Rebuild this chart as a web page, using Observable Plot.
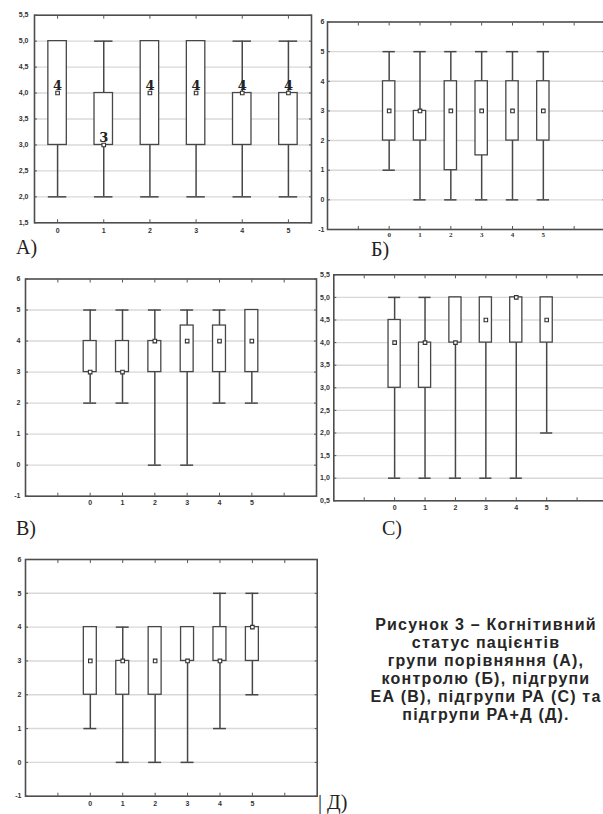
<!DOCTYPE html>
<html><head><meta charset="utf-8">
<script src="https://cdn.jsdelivr.net/npm/d3@7"></script>
<script src="https://cdn.jsdelivr.net/npm/@observablehq/plot@0.6"></script>
<style>
html,body{margin:0;padding:0;width:603px;height:814px;overflow:hidden;background:#fff;position:relative;}
.panel{position:absolute;}
.lab{position:absolute;font-family:"Liberation Serif","Times New Roman",serif;font-size:20px;color:#222;line-height:20px;white-space:nowrap;}
#caption{position:absolute;left:346px;width:280px;top:616px;text-align:center;font-family:"Liberation Sans",Arial,sans-serif;font-weight:700;font-size:16px;letter-spacing:1.2px;line-height:18px;color:#262626;white-space:nowrap;}
</style></head><body>
<div id="pA" class="panel" style="left:0;top:0"></div>
<div id="pB" class="panel" style="left:300px;top:0"></div>
<div id="pV" class="panel" style="left:0;top:260px"></div>
<div id="pS" class="panel" style="left:300px;top:255px"></div>
<div id="pD" class="panel" style="left:0;top:540px"></div>
<div class="lab" style="left:16px;top:237px">A)</div>
<div class="lab" style="left:371px;top:239px">Б)</div>
<div class="lab" style="left:16px;top:518px">В)</div>
<div class="lab" style="left:382px;top:518px">С)</div>
<div class="lab" style="left:318px;top:792px">| Д)</div>
<div id="caption">Рисунок 3 – Когнітивний<br>статус пацієнтів<br>групи порівняння (А),<br>контролю (Б), підгрупи<br>ЕА (В), підгрупи РА (С) та<br>підгрупи РА+Д (Д).</div>
<script>
const categories = [0, 1, 2, 3, 4, 5];

// Panel A
const aMin = [2, 2, 2, 2, 2, 2];
const aQ1  = [3, 3, 3, 3, 3, 3];
const aMed = [4, 3, 4, 4, 4, 4];
const aQ3  = [5, 4, 5, 5, 4, 4];
const aMax = [5, 5, 5, 5, 5, 5];
const aLabels = ["4", "3", "4", "4", "4", "4"];
const aYTicks = [1.5, 2, 2.5, 3, 3.5, 4, 4.5, 5, 5.5];

// Panel Б
const bMin = [1, 0, 0, 0, 0, 0];
const bQ1  = [2, 2, 1, 1.5, 2, 2];
const bMed = [3, 3, 3, 3, 3, 3];
const bQ3  = [4, 3, 4, 4, 4, 4];
const bMax = [5, 5, 5, 5, 5, 5];
const bYTicks = [-1, 0, 1, 2, 3, 4, 5, 6];

// Panel В
const vMin = [2, 2, 0, 0, 2, 2];
const vQ1  = [3, 3, 3, 3, 3, 3];
const vMed = [3, 3, 4, 4, 4, 4];
const vQ3  = [4, 4, 4, 4.5, 4.5, 5];
const vMax = [5, 5, 5, 5, 5, 5];
const vYTicks = [-1, 0, 1, 2, 3, 4, 5, 6];

// Panel С
const sMin = [1, 1, 1, 1, 1, 2];
const sQ1  = [3, 3, 4, 4, 4, 4];
const sMed = [4, 4, 4, 4.5, 5, 4.5];
const sQ3  = [4.5, 4, 5, 5, 5, 5];
const sMax = [5, 5, 5, 5, 5, 5];
const sYTicks = [0.5, 1, 1.5, 2, 2.5, 3, 3.5, 4, 4.5, 5, 5.5];

// Panel Д
const dMin = [1, 0, 0, 0, 1, 2];
const dQ1  = [2, 2, 2, 3, 3, 3];
const dMed = [3, 3, 3, 3, 3, 4];
const dQ3  = [4, 3, 4, 4, 4, 4];
const dMax = [4, 4, 4, 4, 5, 5];
const dYTicks = [-1, 0, 1, 2, 3, 4, 5, 6];

const wideXTicks = [-1, 0, 1, 2, 3, 4, 5, 6];
const commaFmt = v => d3.format(".1f")(v).replace(".", ",");
const intFmt = v => String(v);

const DARK = "#474747";

function makePanel(cfg) {
  const rows = categories.map((c, i) => ({
    cat: c, min: cfg.min[i], q1: cfg.q1[i], med: cfg.med[i], q3: cfg.q3[i], max: cfg.max[i],
    label: cfg.labels ? cfg.labels[i] : ""
  }));
  const h = cfg.half;
  const [y0, y1] = cfg.yDomain;
  const grid = cfg.yTicks.filter(v => v > y0 && v < y1);
  const marks = [
    Plot.gridY(grid, {stroke: "#d8d8d8", strokeOpacity: 1, strokeWidth: 1.4}),
    Plot.ruleX(rows, {x: "cat", y1: "min", y2: "max", stroke: DARK, strokeWidth: 1.5}),
    Plot.ruleY(rows, {y: "min", x1: d => d.cat - h, x2: d => d.cat + h, stroke: DARK, strokeWidth: 1.5}),
    Plot.ruleY(rows, {y: "max", x1: d => d.cat - h, x2: d => d.cat + h, stroke: DARK, strokeWidth: 1.5}),
    Plot.rect(rows, {x1: d => d.cat - h, x2: d => d.cat + h, y1: "q1", y2: "q3", fill: "white", stroke: DARK, strokeWidth: 1.3}),
    Plot.dot(rows, {x: "cat", y: "med", symbol: "square", r: 2, fill: "white", stroke: "#333", strokeWidth: 1.1}),
    Plot.frame({stroke: "#4d4d4d", strokeWidth: 1.6}),
    Plot.axisX(cfg.xTicks, {anchor: "top", tickSize: -3, tickFormat: () => "", label: null, color: "#555"}),
    Plot.axisX(cfg.xTicks, {anchor: "bottom", tickSize: -3, tickFormat: () => "", label: null, color: "#555"}),
    Plot.axisY(cfg.yTicks, {anchor: "left", tickSize: -3, tickFormat: () => "", label: null, color: "#555"}),
    Plot.axisY(cfg.yTicks, {anchor: "right", tickSize: -3, tickFormat: () => "", label: null, color: "#555"}),
    Plot.axisX(categories, {anchor: "bottom", tickSize: 0, tickPadding: cfg.xPad, label: null,
      fontWeight: "bold", fontSize: 7, color: "#333", fontFamily: cfg.xFont || "Liberation Sans, Arial, sans-serif"}),
    Plot.axisY(cfg.yTicks, {anchor: "left", tickSize: 0, tickPadding: cfg.yPad, tickFormat: cfg.yFmt, label: null,
      fontWeight: "bold", fontSize: 7, color: "#333"})
  ];
  if (cfg.labels) {
    marks.push(Plot.text(rows, {x: "cat", y: "med", text: "label", lineAnchor: "bottom", dy: -3,
      fontFamily: "DejaVu Serif, serif", fontWeight: "bold", fontSize: 13, fill: "#222"}));
  }
  return Plot.plot({
    width: cfg.width, height: cfg.height,
    marginLeft: cfg.ml, marginRight: cfg.mr, marginTop: cfg.mt, marginBottom: cfg.mb,
    x: {type: "linear", domain: cfg.xDomain, label: null},
    y: {type: "linear", domain: cfg.yDomain, label: null},
    style: {fontFamily: "Liberation Sans, Arial, sans-serif", fontSize: "7px", background: "transparent",
      maxWidth: "none", overflow: "visible", color: "#333"},
    marks
  });
}

document.getElementById("pA").append(makePanel({
  min: aMin, q1: aQ1, med: aMed, q3: aQ3, max: aMax, labels: aLabels,
  xDomain: [-0.5, 5.5], xTicks: categories, yDomain: [1.5, 5.5], yTicks: aYTicks, yFmt: commaFmt,
  half: 0.2, width: 330, height: 245, ml: 34, mr: 19, mt: 14.7, mb: 22.7, xPad: 5, yPad: 6
}));
document.getElementById("pB").append(makePanel({
  min: bMin, q1: bQ1, med: bMed, q3: bQ3, max: bMax,
  xDomain: [-2, 7], xTicks: wideXTicks, yDomain: [-1, 6], yTicks: bYTicks, yFmt: intFmt,
  half: 0.2, width: 310, height: 245, ml: 27, mr: 5.5, mt: 21.5, mb: 16, xPad: 3, yPad: 3,
  xFont: "Liberation Serif, serif"
}));
document.getElementById("pV").append(makePanel({
  min: vMin, q1: vQ1, med: vMed, q3: vQ3, max: vMax,
  xDomain: [-2, 7], xTicks: wideXTicks, yDomain: [-1, 6], yTicks: vYTicks, yFmt: intFmt,
  half: 0.2, width: 330, height: 255, ml: 25, mr: 14, mt: 18.5, mb: 19.3, xPad: 4, yPad: 5
}));
document.getElementById("pS").append(makePanel({
  min: sMin, q1: sQ1, med: sMed, q3: sQ3, max: sMax,
  xDomain: [-2, 7], xTicks: wideXTicks, yDomain: [0.5, 5.5], yTicks: sYTicks, yFmt: commaFmt,
  half: 0.2, width: 310, height: 265, ml: 33.3, mr: 3, mt: 19.3, mb: 19.7, xPad: 4, yPad: 4
}));
document.getElementById("pD").append(makePanel({
  min: dMin, q1: dQ1, med: dMed, q3: dQ3, max: dMax,
  xDomain: [-2, 7], xTicks: wideXTicks, yDomain: [-1, 6], yTicks: dYTicks, yFmt: intFmt,
  half: 0.2, width: 330, height: 274, ml: 25, mr: 13.3, mt: 19, mb: 18.3, xPad: 5, yPad: 4
}));
</script>
</body></html>
